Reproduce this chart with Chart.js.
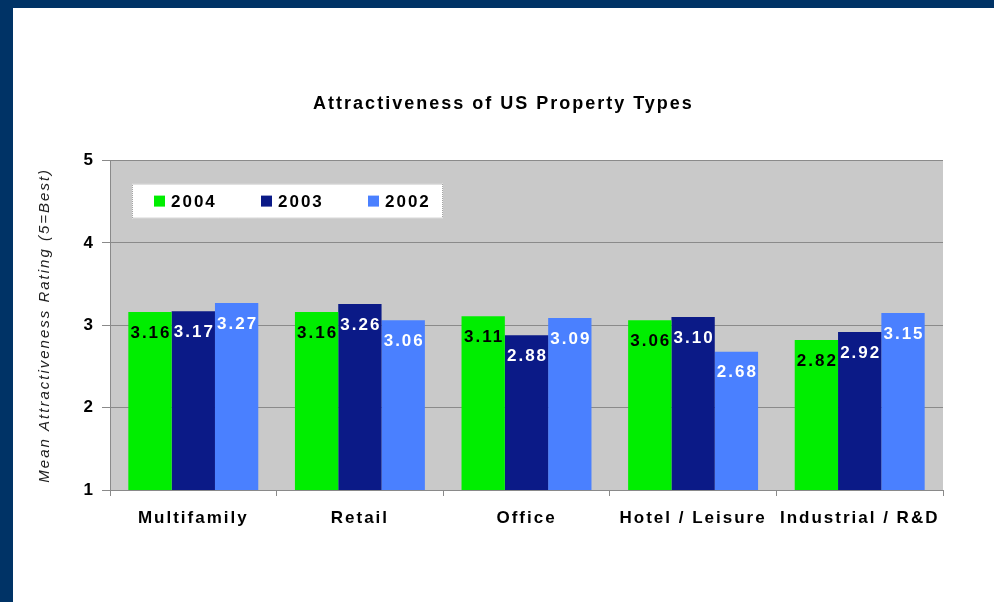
<!DOCTYPE html>
<html>
<head>
<meta charset="utf-8">
<script src="https://cdn.jsdelivr.net/npm/chart.js@4.4.1/dist/chart.umd.min.js"></script>
<style>
  html, body { margin: 0; padding: 0; background: #003366; }
  #frame { position: absolute; left: 13px; top: 8px; width: 981px; height: 594px; background: #ffffff; }
  canvas { display: block; }
</style>
</head>
<body>
<div id="frame"><canvas id="chart" width="981" height="594"></canvas></div>
<script>
const categories = ["Multifamily", "Retail", "Office", "Hotel / Leisure", "Industrial / R&D"];
const years = ["2004", "2003", "2002"];
const values2004 = [3.16, 3.16, 3.11, 3.06, 2.82];
const values2003 = [3.17, 3.26, 2.88, 3.10, 2.92];
const values2002 = [3.27, 3.06, 3.09, 2.68, 3.15];
const yTicks = [1, 2, 3, 4, 5];

const FONT = "Arial, 'Liberation Sans', sans-serif";
const barColors = ["#00ee00", "#0b1a87", "#4a80ff"];
const labelColors = ["#000000", "#ffffff", "#ffffff"];

// wide letter spacing like the original bitmap text
const spacing = {
  id: "spacing",
  beforeLayout(chart) { chart.ctx.letterSpacing = "2px"; },
  beforeDraw(chart) { chart.ctx.letterSpacing = "2px"; }
};

// grey plot background
const plotBg = {
  id: "plotBg",
  beforeDraw(chart) {
    const { ctx, chartArea: a } = chart;
    ctx.save();
    ctx.fillStyle = "#c9c9c9";
    ctx.fillRect(a.left, a.top, a.right - a.left, a.bottom - a.top);
    ctx.restore();
  }
};

// value labels just inside the top of each bar
const barLabels = {
  id: "barLabels",
  afterDatasetsDraw(chart) {
    const ctx = chart.ctx;
    ctx.save();
    ctx.font = "bold 17px " + FONT;
    ctx.textAlign = "center";
    ctx.textBaseline = "middle";
    chart.data.datasets.forEach((ds, i) => {
      chart.getDatasetMeta(i).data.forEach((bar, j) => {
        ctx.fillStyle = labelColors[i];
        ctx.fillText(ds.data[j].toFixed(2), bar.x + 1, bar.y + 21);
      });
    });
    ctx.restore();
  }
};

// boxed legend inside the plot area
const boxLegend = {
  id: "boxLegend",
  afterDraw(chart) {
    const { ctx, chartArea: a } = chart;
    const x0 = a.left + 22, y0 = a.top + 23, w = 311, h = 35;
    ctx.save();
    ctx.fillStyle = "#ffffff";
    ctx.fillRect(x0, y0, w, h);
    ctx.strokeStyle = "#9a9a9a";
    ctx.setLineDash([1, 1]);
    ctx.lineWidth = 1;
    ctx.strokeRect(x0 + 0.5, y0 + 0.5, w - 1, h - 1);
    ctx.setLineDash([]);
    ctx.font = "bold 17px " + FONT;
    ctx.textBaseline = "middle";
    ctx.textAlign = "left";
    chart.data.datasets.forEach((ds, i) => {
      const sx = x0 + 22 + i * 107;
      ctx.fillStyle = ds.backgroundColor;
      ctx.fillRect(sx, y0 + 12, 11, 11);
      ctx.fillStyle = "#000000";
      ctx.fillText(ds.label, sx + 17, y0 + h / 2 + 1);
    });
    ctx.restore();
  }
};

new Chart(document.getElementById("chart"), {
  type: "bar",
  data: {
    labels: categories,
    datasets: [
      { label: years[0], data: values2004, backgroundColor: barColors[0] },
      { label: years[1], data: values2003, backgroundColor: barColors[1] },
      { label: years[2], data: values2002, backgroundColor: barColors[2] }
    ]
  },
  options: {
    responsive: false,
    animation: false,
    layout: { padding: { left: 0, right: 0, top: 0, bottom: 72 } },
    datasets: { bar: { barPercentage: 1, categoryPercentage: 0.78 } },
    plugins: {
      legend: { display: false },
      tooltip: { enabled: false },
      title: {
        display: true,
        text: "Attractiveness of US Property Types",
        color: "#000000",
        font: { family: FONT, size: 18, weight: "bold" },
        padding: { top: 85, bottom: 46 }
      }
    },
    scales: {
      x: {
        afterFit(scale) { scale.height = 40; },
        grid: { display: true, drawOnChartArea: false, tickLength: 6, color: "#8a8a8a" },
        border: { color: "#8a8a8a" },
        ticks: {
          color: "#000000",
          font: { family: FONT, size: 17, weight: "bold" },
          padding: 12,
          maxRotation: 0,
          autoSkip: false
        }
      },
      y: {
        min: 1,
        max: 5,
        afterFit(scale) { scale.width = 97; },
        afterBuildTicks(scale) { scale.ticks = yTicks.map(v => ({ value: v })); },
        grid: { color: "#8a8a8a", tickLength: 8 },
        border: { color: "#8a8a8a" },
        ticks: {
          color: "#000000",
          font: { family: FONT, size: 17, weight: "bold" },
          padding: 7
        },
        title: {
          display: true,
          text: "Mean Attractiveness Rating (5=Best)",
          color: "#222222",
          font: { family: FONT, size: 15, style: "italic" },
          padding: { top: 23, bottom: 0 }
        }
      },
      // empty right-hand axis that only reserves the white margin, so the title stays centred on the canvas
      yRight: {
        position: "right",
        min: 1,
        max: 5,
        afterFit(scale) { scale.width = 51; },
        grid: { drawOnChartArea: false, display: false },
        border: { display: false },
        ticks: { display: false }
      }
    }
  },
  plugins: [spacing, plotBg, barLabels, boxLegend]
});
</script>
</body>
</html>
